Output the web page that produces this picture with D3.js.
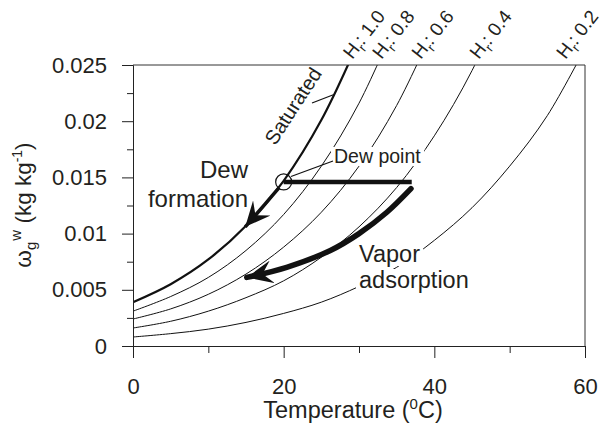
<!DOCTYPE html>
<html><head><meta charset="utf-8">
<script src="https://cdn.jsdelivr.net/npm/d3@7"></script>
<style>
body{margin:0;background:#fff;}
text{font-family:"Liberation Sans",Arial,Helvetica,sans-serif;fill:#231f20;}
</style></head>
<body><svg id="c" width="608" height="428"></svg>
<script>
// ---- data ----
const temps = [0,5,10,15,20,25,30,35,40,45,50,55,60];
const omegaHr100 = [0.0039,0.0055,0.0077,0.0107,0.0147,0.0201,0.0272];
const omegaHr080 = [0.0031,0.0044,0.0061,0.0085,0.0117,0.0160,0.0216,0.0289];
const omegaHr060 = [0.0024,0.0033,0.0046,0.0064,0.0088,0.0119,0.0160,0.0214,0.0284];
const omegaHr040 = [0.0016,0.0022,0.0031,0.0043,0.0058,0.0079,0.0106,0.0141,0.0187,0.0245,0.0319];
const omegaHr020 = [0.0008,0.0011,0.0015,0.0021,0.0029,0.0039,0.0053,0.0070,0.0094,0.0123,0.0160,0.0205,0.0265];
const hrLevels = ["1.0","0.8","0.6","0.4","0.2"];
const hrLabelT = [29.1,33.0,38.2,45.9,57.4];      // label positions along the top edge
const xMajor = [0,20,40,60], xMinor = [10,30,50];
const yMajor = [0,0.005,0.01,0.015,0.02,0.025], yMinor = [0.0025,0.0075,0.0125,0.0175,0.0225];
const yTickLabels = ["0","0.005","0.01","0.015","0.02","0.025"];
const dewPoint = [20,0.0146];
const coolingLine = [[20,0.0146],[37,0.0146]];
const dewArrow = [[19.4,0.0141],[17.5,0.0126],[14.9,0.0106]];
const vaporArrow = [[36.9,0.0140],[33.7,0.0119],[30.0,0.0100],[26.2,0.0085],[20.4,0.0070],[15.1,0.0061]];

const svg = d3.select("#c");
const x = d3.scaleLinear().domain([0,60]).range([133,585]);
const y = d3.scaleLinear().domain([0,0.025]).range([346,65]);

const defs = svg.append("defs");
defs.append("clipPath").attr("id","plot")
  .append("rect").attr("x",133).attr("y",65).attr("width",452).attr("height",281);
function marker(id, L, W){
  defs.append("marker").attr("id",id).attr("markerUnits","userSpaceOnUse")
    .attr("viewBox",`${-L} ${-W/2} ${L} ${W}`).attr("refX",0).attr("refY",0)
    .attr("markerWidth",L).attr("markerHeight",W).attr("orient","auto")
    .append("path").attr("d",`M0,0 L${-L},${-W/2} L${-L*0.62},0 L${-L},${W/2} Z`).attr("fill","#111");
}
marker("ah1",25,23);
marker("ah2",26,23);

// curves
const series = [omegaHr100,omegaHr080,omegaHr060,omegaHr040,omegaHr020];
const line = d3.line().x(d=>x(d[0])).y(d=>y(d[1])).curve(d3.curveCatmullRom.alpha(0.5));
const straight = d3.line().x(d=>x(d[0])).y(d=>y(d[1]));
const g = svg.append("g").attr("clip-path","url(#plot)");
series.forEach((s,i)=>{
  g.append("path").datum(s.map((v,j)=>[temps[j],v]))
   .attr("d",line).attr("fill","none").attr("stroke","#111")
   .attr("stroke-width", i===0?2.2:1);
});

// frame top/right
svg.append("path").attr("d",`M${x(0)},${y(0.025)}H${x(60)}V${y(0)}`).attr("fill","none").attr("stroke","#333").attr("stroke-width",1);

// axes
function styleAxis(sel){ sel.select(".domain").attr("stroke","#222"); sel.selectAll(".tick line").attr("stroke","#222");
  sel.selectAll("text").style("font-size","22px").attr("fill","#231f20"); }
svg.append("g").attr("transform",`translate(0,${y(0)})`)
  .call(d3.axisBottom(x).tickValues(xMajor).tickSize(12).tickPadding(20).tickFormat(d3.format("d"))).call(styleAxis);
svg.append("g").attr("transform",`translate(0,${y(0)})`)
  .call(d3.axisBottom(x).tickValues(xMinor).tickSize(7).tickFormat("")).call(styleAxis).select(".domain").remove();
svg.append("g").attr("transform",`translate(${x(0)},0)`)
  .call(d3.axisLeft(y).tickValues(yMajor).tickSize(11).tickPadding(15).tickFormat((d,i)=>yTickLabels[i])).call(styleAxis);
svg.append("g").attr("transform",`translate(${x(0)},0)`)
  .call(d3.axisLeft(y).tickValues(yMinor).tickSize(6).tickFormat("")).call(styleAxis).select(".domain").remove();

// axis titles
const xt = svg.append("text").attr("x",353).attr("y",418).attr("text-anchor","middle").style("font-size","23.5px");
xt.append("tspan").text("Temperature (");
xt.append("tspan").text("0").attr("dy",-9).style("font-size","15px");
xt.append("tspan").text("C)").attr("dy",9);
const yt = svg.append("text").attr("transform","translate(31,205) rotate(-90)").attr("text-anchor","middle").style("font-size","22.5px");
yt.append("tspan").text("ω");
yt.append("tspan").text("g").attr("dy",5).style("font-size","15px");
yt.append("tspan").text("w").attr("dy",-15).attr("dx",1).style("font-size","15px");
yt.append("tspan").text(" (kg kg").attr("dy",10);
yt.append("tspan").text("-1").attr("dy",-9).style("font-size","14px");
yt.append("tspan").text(")").attr("dy",9);

// Hr labels
hrLevels.forEach((h,i)=>{
  const t = svg.append("text").attr("transform",`translate(${x(hrLabelT[i])},60) rotate(-52)`).style("font-size","19px");
  t.append("tspan").text("H");
  t.append("tspan").text("r").attr("dy",5).style("font-size","13px");
  t.append("tspan").text(": "+h).attr("dy",-5);
});

// labels with white backgrounds
function label(txt,xx,yy,size,anchor,bg){
  const t = svg.append("text").attr("x",xx).attr("y",yy).attr("text-anchor",anchor||"start").style("font-size",size+"px").text(txt);
  if(bg){ const b=t.node().getBBox(); svg.insert("rect",()=>t.node()).attr("x",b.x-3).attr("y",b.y+2).attr("width",b.width+6).attr("height",b.height-3).attr("fill","#fff"); }
  return t;
}
label("Dew point",334,163,19.5,"start",true);
label("Vapor",359,262,23.5,"start",true);
label("adsorption",359,288,23.5,"start",true);
label("Dew",248,178,24,"end");
label("formation",248,207,24,"end");
svg.append("text").attr("transform","translate(293,106) rotate(-57)").attr("text-anchor","middle")
  .attr("dominant-baseline","central").style("font-size","20px").text("Saturated");
svg.append("line").attr("x1",312).attr("y1",103).attr("x2",334).attr("y2",94.5).attr("stroke","#111").attr("stroke-width",1.2);
svg.append("line").attr("x1",291).attr("y1",176.5).attr("x2",333).attr("y2",161).attr("stroke","#111").attr("stroke-width",1.2);

// process lines
svg.append("circle").attr("cx",x(dewPoint[0])).attr("cy",y(dewPoint[1])).attr("r",8).attr("fill","none").attr("stroke","#111").attr("stroke-width",1.2);
svg.append("path").attr("d",straight(coolingLine)).attr("stroke","#111").attr("stroke-width",4.5).attr("fill","none");
svg.append("path").attr("d",line(dewArrow)).attr("stroke","#111").attr("stroke-width",3.5).attr("fill","none").attr("marker-end","url(#ah1)");
svg.append("path").attr("d",line(vaporArrow)).attr("stroke","#111").attr("stroke-width",5.5).attr("stroke-linecap","round").attr("fill","none").attr("marker-end","url(#ah2)");
</script></body></html>
